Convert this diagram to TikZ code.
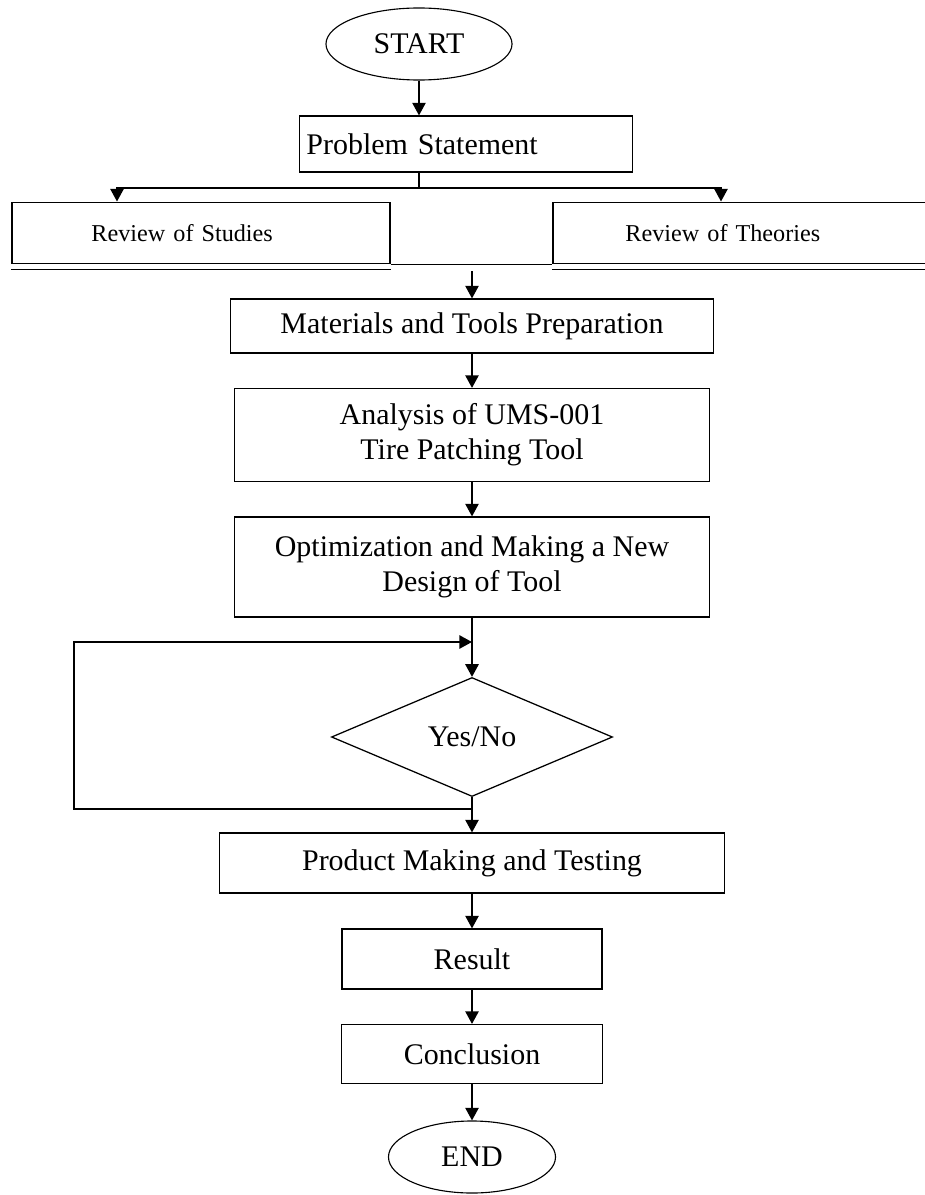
\documentclass[tikz,border=0pt]{standalone}
\usepackage{fontspec}
\setmainfont{Liberation Serif}
\usetikzlibrary{arrows.meta,shapes.geometric,positioning}

\begin{document}
\begin{tikzpicture}[
    x=0.025cm, y=-0.025cm,
    >={Triangle[width=9.5pt,length=9pt]},
    font=\fontsize{21.3}{25}\selectfont,
    procbox/.style={
      draw,rectangle,line width=0.8pt,inner sep=0pt,align=center
    },
    revbox/.style={
      draw,rectangle,line width=1.4pt,inner ysep=0pt,align=left,
      minimum height=1.525cm,font=\fontsize{17.2}{20}\selectfont
    },
    terminal/.style={
      draw,ellipse,line width=0.8pt,inner sep=0pt,minimum height=1.8cm
    },
    decision/.style={
      draw,diamond,line width=0.9pt,inner sep=0pt
    },
    flow/.style={->,line width=1.1pt}
  ]
  \useasboundingbox (0,0) rectangle (925,1195);

  \node (start) [terminal,minimum width=4.65cm] at (419,44) {START};
  \node (prob) [procbox,align=left,text width=7.975cm,inner xsep=0.175cm,
    minimum height=1.4cm] at (466,144) {Problem Statement};
  \node (studies) [revbox,text width=5.475cm,inner xsep=1.975cm] at (201,233) {Review of Studies};
  \node (theories) [revbox,text width=5.825cm,inner xsep=1.8cm] at (742,233) {Review of Theories};
  \node (mat) [procbox,minimum width=12.075cm,minimum height=1.35cm] at (472,326)
    {Materials and Tools Preparation};
  \node (anal) [procbox,minimum width=11.875cm,minimum height=2.325cm] at (472,435)
    {Analysis of UMS-001\\Tire Patching Tool};
  \node (opt) [procbox,minimum width=11.875cm,minimum height=2.5cm] at (472,567)
    {Optimization and Making a New\\Design of Tool};
  \node (dec) [decision,minimum width=7.025cm,minimum height=2.975cm] at (472,737) {Yes/No};
  \node (prod) [procbox,minimum width=12.625cm,minimum height=1.5cm] at (472,863)
    {Product Making and Testing};
  \node (res) [procbox,minimum width=6.5cm,minimum height=1.5cm] at (472,959) {Result};
  \node (conc) [procbox,minimum width=6.525cm,minimum height=1.475cm] at (472,1054) {Conclusion};
  \node (end) [terminal,minimum width=4.175cm] at (472,1157) {END};

  % split below the problem statement
  \coordinate (split) at (419,188);
  \coordinate (toleft) at (117,188);
  \coordinate (toright) at (721,188);
  \draw [flow] (start) -- (start |- prob.north);
  \draw [line width=1.1pt] (start |- prob.south) -- (split);
  \draw [flow] (split) -- (toleft) -- (toleft |- studies.north);
  \draw [flow] (split) -- (toright) -- (toright |- theories.north);

  % double rule under the review boxes
  \draw [line width=1.4pt] (studies.south east) -- (theories.south west);
  \draw [line width=1.4pt] ([yshift=-0.125cm]studies.south west) -- ([yshift=-0.125cm]studies.south east);
  \draw [line width=1.4pt] ([yshift=-0.125cm]theories.south west) -- ([yshift=-0.125cm]theories.south east);

  % main column
  \coordinate (join) at (472,271);
  \draw [flow] (join) -- (mat);
  \draw [flow] (mat) -- (anal);
  \draw [flow] (anal) -- (opt);
  \draw [flow] (opt) -- (dec);
  \draw [flow] (dec) -- (prod);
  \draw [flow] (prod) -- (res);
  \draw [flow] (res) -- (conc);
  \draw [flow] (conc) -- (end);

  % loop back
  \coordinate (loopin) at (472,642);
  \coordinate (loopout) at (472,809);
  \coordinate (loopleft) at (74,809);
  \draw [flow] (loopout) -- (loopleft) |- (loopin);
\end{tikzpicture}
\end{document}
